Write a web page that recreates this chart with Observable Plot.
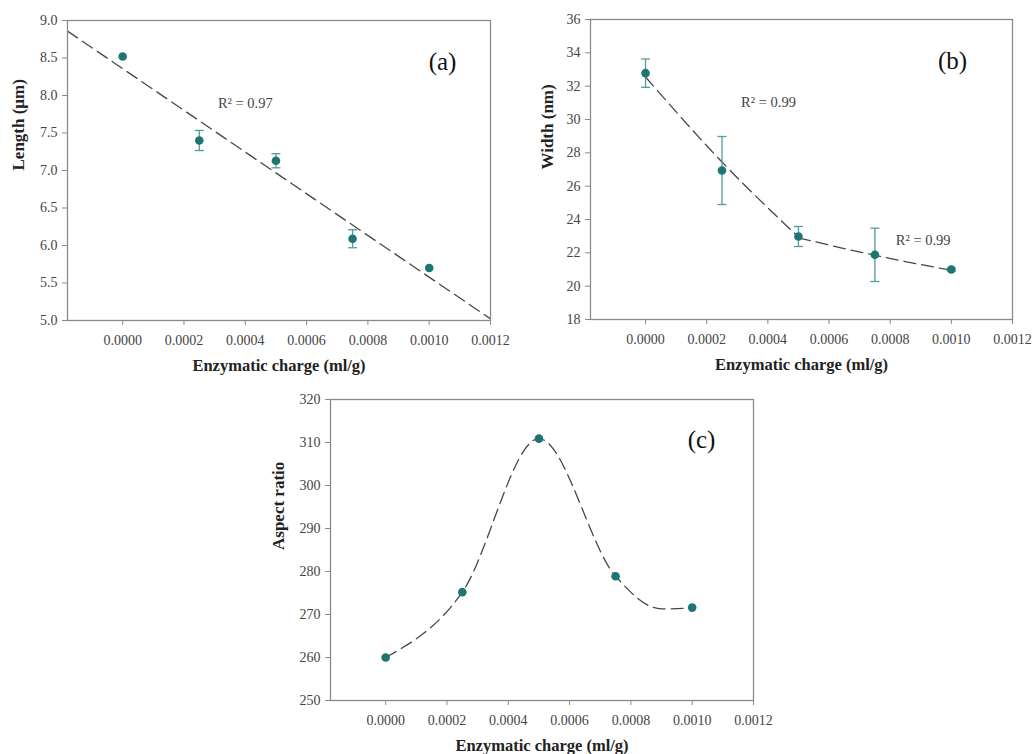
<!DOCTYPE html>
<html>
<head>
<meta charset="utf-8">
<script src="https://cdn.jsdelivr.net/npm/d3@7"></script>
<script src="https://cdn.jsdelivr.net/npm/@observablehq/plot@0.6"></script>
<style>
  html, body { margin: 0; padding: 0; background: #fff; }
  #wrap { position: relative; width: 1036px; height: 754px; background: #fff; overflow: hidden; }
  #wrap > div { position: absolute; }
  #pa { left: 0px; top: 0px; }
  #pb { left: 520px; top: 0px; }
  #pc { left: 260px; top: 380px; }
</style>
</head>
<body>
<div id="wrap"><div id="pa"></div><div id="pb"></div><div id="pc"></div></div>
<script>
// ---------- data ----------
const charge = [0, 0.00025, 0.0005, 0.00075, 0.001];

const lengthMean = [8.52, 7.40, 7.13, 6.09, 5.70];
const lengthErr  = [0, 0.134, 0.094, 0.12, 0];

const widthMean = [32.78, 26.94, 22.98, 21.88, 21.00];
const widthErr  = [0.85, 2.04, 0.6, 1.6, 0.08];

const aspectMean = [260.0, 275.2, 310.9, 278.9, 271.6];

// fitted curves
const widthFit1X = [0, 0.00025, 0.0005];
const widthFit1Y = [32.55, 27.45, 22.95];
const widthFit2X = [0.0005, 0.00075, 0.001];
const widthFit2Y = [22.9, 21.85, 20.95];
const aspectFitX = [0, 0.00025, 0.0005, 0.00075, 0.0009, 0.001];
const aspectFitY = [260.0, 275.2, 310.9, 278.9, 271.3, 271.5];

const xTicks = [0, 0.0002, 0.0004, 0.0006, 0.0008, 0.0010, 0.0012];
const yTicksA = [5.0, 5.5, 6.0, 6.5, 7.0, 7.5, 8.0, 8.5, 9.0];
const yTicksB = [18, 20, 22, 24, 26, 28, 30, 32, 34, 36];
const yTicksC = [250, 260, 270, 280, 290, 300, 310, 320];
const xDomain = [-0.00018, 0.0012];

const xLabel = "Enzymatic charge (ml/g)";
const r2A = [{x: 0.0004, y: 7.9, t: "R² = 0.97"}];
const r2B = [{x: 0.000402, y: 31.0, t: "R² = 0.99"}, {x: 0.000908, y: 22.74, t: "R² = 0.99"}];

// ---------- helpers ----------
const dotColor = "#1d7673";
const barColor = "#4f9e9b";
const fitColor = "#474747";
const capSymbol = {draw(ctx) { ctx.moveTo(-4.5, 0); ctx.lineTo(4.5, 0); }};

const rowsA = charge.map((x, i) => ({x, y: lengthMean[i], e: lengthErr[i]}));
const rowsB = charge.map((x, i) => ({x, y: widthMean[i], e: widthErr[i]}));
const rowsC = charge.map((x, i) => ({x, y: aspectMean[i]}));

// linear regression for (a)
const mx = d3.mean(charge), my = d3.mean(lengthMean);
const slope = d3.sum(charge, (x, i) => (x - mx) * (lengthMean[i] - my)) / d3.sum(charge, x => (x - mx) ** 2);
const intercept = my - slope * mx;
const fitA = xDomain.map(x => ({x, y: intercept + slope * x}));
const fitB1 = widthFit1X.map((x, i) => ({x, y: widthFit1Y[i]}));
const fitB2 = widthFit2X.map((x, i) => ({x, y: widthFit2Y[i]}));
const fitC = aspectFitX.map((x, i) => ({x, y: aspectFitY[i]}));

const baseStyle = {fontFamily: "'Liberation Serif', 'Times New Roman', serif", fontSize: "14px", color: "#444", background: "transparent", overflow: "visible"};

function axes(yTicks, yFmt) {
  return [
    Plot.axisX({ticks: xTicks, tickFormat: d3.format(".4f"), tickSize: 5, tickPadding: 10, stroke: "#888", fill: "#444", fontSize: 14, label: null}),
    Plot.axisY({ticks: yTicks, tickFormat: yFmt, tickSize: 5, tickPadding: 5, stroke: "#888", fill: "#444", fontSize: 14, label: null}),
    Plot.frame({stroke: "#8a8a8a", strokeWidth: 1.3})
  ];
}
function labels(yLabel, yDx, letter, ldx, ldy) {
  return [
    Plot.text([xLabel], {frameAnchor: "bottom", dy: 45, text: d => d, fontWeight: "bold", fontSize: 16.5, fill: "#222", lineAnchor: "middle"}),
    Plot.text([yLabel], {frameAnchor: "left", dx: yDx, rotate: -90, text: d => d, fontWeight: "bold", fontSize: 17, fill: "#222", lineAnchor: "middle"}),
    Plot.text([letter], {frameAnchor: "top-right", dx: ldx, dy: ldy, text: d => d, fontSize: 25, fill: "#111", lineAnchor: "middle", textAnchor: "middle"})
  ];
}
function points(rows, withErr) {
  const m = [];
  if (withErr) {
    const er = rows.filter(d => d.e > 0);
    m.push(Plot.ruleX(er, {x: "x", y1: d => d.y - d.e, y2: d => d.y + d.e, stroke: barColor, strokeWidth: 1.3}));
    m.push(Plot.dot(er, {x: "x", y: d => d.y - d.e, symbol: capSymbol, stroke: barColor, strokeWidth: 1.3, r: 4}));
    m.push(Plot.dot(er, {x: "x", y: d => d.y + d.e, symbol: capSymbol, stroke: barColor, strokeWidth: 1.3, r: 4}));
  }
  m.push(Plot.dot(rows, {x: "x", y: "y", r: 4.3, fill: dotColor}));
  return m;
}
const dash = {stroke: fitColor, strokeWidth: 1.3, strokeDasharray: "12,6"};

// ---------- panel (a) ----------
const pa = Plot.plot({
  width: 520, height: 378,
  marginLeft: 67, marginRight: 30, marginTop: 20, marginBottom: 58,
  style: baseStyle,
  x: {domain: xDomain},
  y: {domain: [5, 9]},
  marks: [
    Plot.line(fitA, {x: "x", y: "y", ...dash}),
    ...points(rowsA, true),
    Plot.text(r2A, {x: "x", y: "y", text: "t", fontSize: 14.5, fill: "#444"}),
    ...axes(yTicksA, d3.format(".1f")),
    ...labels("Length (μm)", -49, "(a)", -48, 41)
  ]
});
document.getElementById("pa").appendChild(pa);

// ---------- panel (b) ----------
const pb = Plot.plot({
  width: 516, height: 378,
  marginLeft: 70, marginRight: 24, marginTop: 19, marginBottom: 59,
  style: baseStyle,
  x: {domain: xDomain},
  y: {domain: [18, 36]},
  marks: [
    Plot.line(fitB1, {x: "x", y: "y", curve: "natural", ...dash}),
    Plot.line(fitB2, {x: "x", y: "y", curve: "natural", ...dash}),
    ...points(rowsB, true),
    Plot.text(r2B, {x: "x", y: "y", text: "t", fontSize: 14.5, fill: "#444"}),
    ...axes(yTicksB, d3.format("d")),
    ...labels("Width (nm)", -43, "(b)", -60, 41)
  ]
});
document.getElementById("pb").appendChild(pb);

// ---------- panel (c) ----------
const pc = Plot.plot({
  width: 520, height: 374,
  marginLeft: 70, marginRight: 27, marginTop: 19, marginBottom: 54,
  style: baseStyle,
  x: {domain: xDomain},
  y: {domain: [250, 320]},
  marks: [
    Plot.line(fitC, {x: "x", y: "y", curve: "monotone-x", ...dash}),
    ...points(rowsC, false),
    ...axes(yTicksC, d3.format("d")),
    ...labels("Aspect ratio", -52, "(c)", -52, 40)
  ]
});
document.getElementById("pc").appendChild(pc);
</script>
</body>
</html>
